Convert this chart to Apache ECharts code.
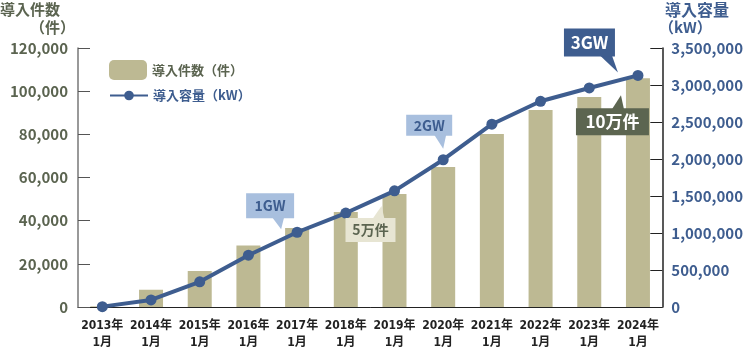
<!DOCTYPE html>
<html>
<head>
<meta charset="utf-8">
<script src="https://cdn.jsdelivr.net/npm/echarts@6/dist/echarts.min.js"></script>
<style>
  html, body { margin: 0; padding: 0; background: #fff; }
  #chart { width: 746px; height: 354px; }
</style>
</head>
<body>
<div id="chart"></div>
<script>
  // 年次カテゴリ
  const categories = ["2013年\n1月", "2014年\n1月", "2015年\n1月", "2016年\n1月", "2017年\n1月", "2018年\n1月",
    "2019年\n1月", "2020年\n1月", "2021年\n1月", "2022年\n1月", "2023年\n1月", "2024年\n1月"];
  // 導入件数（件）
  const countValues = [300, 8000, 16700, 28500, 36600, 44000, 52300, 64900, 80100, 91300, 97300, 106000];
  // 導入容量（kW）
  const capacityValues = [5000, 95000, 340000, 700000, 1010000, 1270000, 1570000, 1990000, 2470000, 2780000, 2960000, 3130000];

  const FONT = "'Noto Sans CJK JP', 'Noto Sans', sans-serif";
  const OLIVE = "#bdb993";
  const OLIVE_TEXT = "#5b6450";
  const BLUE = "#3e5d8f";

  const chart = echarts.init(document.getElementById("chart"));

  const option = {
    animation: false,
    textStyle: { fontFamily: FONT },
    grid: { left: 78, right: 82, top: 48, bottom: 47 },
    legend: [
      {
        data: ["導入件数（件）"],
        left: 104, top: 55, itemWidth: 38, itemHeight: 20, itemGap: 8,
        textStyle: { color: OLIVE_TEXT, fontSize: 13, fontWeight: "bold", fontFamily: FONT }
      },
      {
        data: ["導入容量（kW）"],
        left: 104, top: 84, itemWidth: 38, itemHeight: 12, itemGap: 8,
        textStyle: { color: BLUE, fontSize: 13, fontWeight: "bold", fontFamily: FONT }
      }
    ],
    xAxis: {
      type: "category",
      data: categories,
      axisLine: { lineStyle: { color: "#222", width: 1 } },
      axisTick: { inside: true, alignWithLabel: true, length: 6, lineStyle: { color: "#222" } },
      axisLabel: {
        interval: 0,
        color: "#222", fontSize: 12, fontWeight: "bold", lineHeight: 17, margin: 10,
        fontFamily: "'DejaVu Sans Condensed', 'Noto Sans CJK JP', sans-serif"
      }
    },
    yAxis: [
      {
        type: "value", min: 0, max: 120000, interval: 20000,
        axisLine: { show: true, lineStyle: { color: "#777", width: 1.5 } },
        axisTick: { show: true, inside: true, length: 12, lineStyle: { color: "#555" } },
        splitLine: { show: false },
        axisLabel: {
          color: OLIVE_TEXT, fontSize: 15, fontWeight: "bold", margin: 10,
          formatter: v => v.toLocaleString("en-US")
        }
      },
      {
        type: "value", min: 0, max: 3500000, interval: 500000,
        axisLine: { show: true, lineStyle: { color: "#222", width: 1.5 } },
        axisTick: { show: true, inside: true, length: 12, lineStyle: { color: "#222" } },
        splitLine: { show: false },
        axisLabel: {
          color: BLUE, fontSize: 15, fontWeight: "bold", margin: 9,
          formatter: v => v.toLocaleString("en-US")
        }
      }
    ],
    series: [
      {
        name: "導入件数（件）",
        type: "bar",
        yAxisIndex: 0,
        data: countValues,
        barWidth: 24,
        itemStyle: { color: OLIVE },
        z: 1
      },
      {
        name: "導入容量（kW）",
        type: "line",
        yAxisIndex: 1,
        data: capacityValues,
        symbol: "circle",
        symbolSize: 11,
        itemStyle: { color: BLUE },
        lineStyle: { color: BLUE, width: 4 },
        z: 3
      }
    ]
  };

  chart.setOption(option);

  // 軸タイトル
  const graphics = [
    { type: "text", left: 0, top: 2, style: { text: "導入件数", fill: OLIVE_TEXT, font: "bold 15px " + FONT } },
    { type: "text", left: 30, top: 20, style: { text: "（件）", fill: OLIVE_TEXT, font: "bold 15px " + FONT } },
    { type: "text", left: 665, top: 2, style: { text: "導入容量", fill: BLUE, font: "bold 16px " + FONT } },
    { type: "text", left: 659, top: 20, style: { text: "（kW）", fill: BLUE, font: "bold 15px " + FONT } }
  ];

  // 吹き出し注記（データ点の画素位置から配置）
  const callouts = [
    { text: "1GW", idx: 4, series: 1, dx: -51, dy: -39, w: 48, h: 25, tipX: -16, tipY: -3, bg: "#a8bfde", color: BLUE, size: 14 },
    { text: "2GW", idx: 7, series: 1, dx: -37, dy: -45, w: 46, h: 21, tipX: 0, tipY: -11, bg: "#a8bfde", color: BLUE, size: 14 },
    { text: "3GW", idx: 11, series: 1, dx: -74, dy: -47, w: 51, h: 28, tipX: -20, tipY: -3, bg: BLUE, color: "#fff", size: 17 },
    { text: "5万件", idx: 6, series: 0, dx: -49, dy: 24, w: 50, h: 24, tipX: -13, tipY: 12, bg: "#e7e5d3", color: OLIVE_TEXT, size: 14 },
    { text: "10万件", idx: 11, series: 0, dx: -62, dy: 30, w: 73, h: 27, tipX: -17, tipY: 17, bg: "#5c6550", color: "#fff", size: 17 }
  ];

  callouts.forEach(c => {
    const value = c.series === 0 ? countValues[c.idx] : capacityValues[c.idx];
    const p = chart.convertToPixel({ seriesIndex: c.series }, [c.idx, value]);
    const bx = p[0] + c.dx;
    const by = p[1] + c.dy;
    const tip = [p[0] + c.tipX, p[1] + c.tipY];
    const above = tip[1] < by;
    // 三角形の根元
    const baseY = above ? by : by + c.h;
    const bxMid = Math.min(Math.max(tip[0], bx + 6), bx + c.w - 6);
    const basePts = above
      ? [[bxMid - 9, baseY + 1], [bxMid + 3, baseY + 1], tip]
      : [[bxMid - 9, baseY - 1], [bxMid + 3, baseY - 1], tip];
    graphics.push({
      type: "polygon", z: 10,
      shape: { points: basePts },
      style: { fill: c.bg }
    });
    graphics.push({
      type: "rect", z: 11,
      shape: { x: bx, y: by, width: c.w, height: c.h },
      style: { fill: c.bg }
    });
    graphics.push({
      type: "text", z: 12,
      x: bx + c.w / 2, y: by + c.h / 2,
      style: {
        text: c.text, fill: c.color, font: "bold " + c.size + "px " + FONT,
        align: "center", verticalAlign: "middle"
      }
    });
  });
  chart.setOption({ graphic: graphics });
</script>
</body>
</html>
